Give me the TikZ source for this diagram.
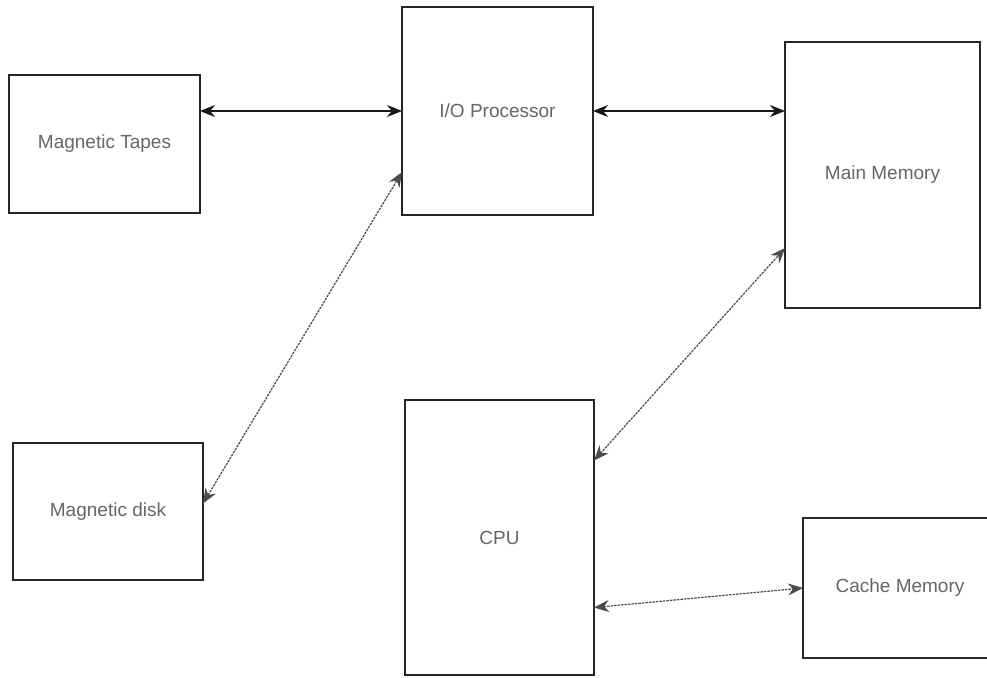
\documentclass[tikz,border=0pt]{standalone}
\usepackage{fontspec}
\setmainfont{Liberation Sans}
\usetikzlibrary{arrows.meta}
\begin{document}
\begin{tikzpicture}[x=1pt,y=-1pt,
  box/.style={draw=black!85, line width=1.6pt, rectangle, inner sep=0pt, outer sep=0pt,
    font=\fontsize{19}{22}\selectfont, text=black!60},
  solidarr/.style={draw=black!90, line width=1.8pt, {Stealth[length=15pt,width=12pt]}-{Stealth[length=15pt,width=12pt]}},
  dotarr/.style={draw=black!70, line width=1.2pt, dash pattern=on 2.5pt off 1pt, {Stealth[length=15pt,width=12pt]}-{Stealth[length=15pt,width=12pt]}}]
\useasboundingbox[fill=white] (0,0) rectangle (987,677);
\node[box, minimum width=191pt, minimum height=138pt] (tapes) at (104.5,144) {Magnetic Tapes};
\node[box, minimum width=191pt, minimum height=208pt] (io) at (497.5,111) {I/O Processor};
\node[box, minimum width=195pt, minimum height=266pt] (mm) at (882.5,175) {Main Memory};
\node[box, minimum width=190pt, minimum height=137pt] (disk) at (108,511.5) {Magnetic disk};
\node[box, minimum width=189pt, minimum height=275pt] (cpu) at (499.5,537.5) {CPU};
\node[box, minimum width=194pt, minimum height=140pt] (cache) at (900,588) {Cache Memory};
\draw[solidarr] (tapes.east |- io.west) -- (io.west);
\draw[solidarr] (io.east) -- (io.east -| mm.west);
\draw[dotarr] ([yshift=8pt]disk.east) -- ([yshift=-61pt]io.west);
\draw[dotarr] ([yshift=77pt]cpu.east) -- ([yshift=-73pt]mm.west);
\draw[dotarr] ([yshift=-70pt]cpu.east) -- (cache.west);
\end{tikzpicture}
\end{document}
